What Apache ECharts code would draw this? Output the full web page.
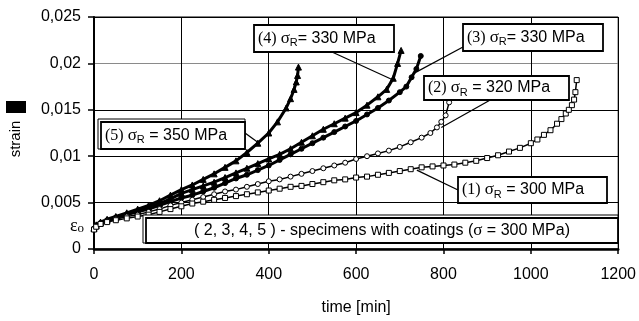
<!DOCTYPE html>
<html><head><meta charset="utf-8">
<script src="https://cdn.jsdelivr.net/npm/echarts@6/dist/echarts.min.js"></script>
<style>html,body{margin:0;padding:0;background:#fff}#c{width:639px;height:321px}</style>
</head><body><div id="c"></div>
<script>
// ---- data ----
const xTickLabels = ['0','200','400','600','800','1000','1200'];
const yTickLabels = ['0','0,005','0,01','0,015','0,02','0,025'];

const t1 = [0,5,15,30,50,75,100,125,150,175,200,225,250,275,300,325,350,375,400,425,450,475,500,525,550,575,600,625,650,675,700,725,750,775,800,825,850,875,900,925,950,975,1000,1015,1030,1045,1060,1070,1080,1087,1094,1099,1102,1105];
const s1 = [0.0021,0.0024,0.0027,0.0029,0.0031,0.0033,0.0035,0.0037,0.0040,0.0043,0.0046,0.0049,0.0051,0.0053,0.0055,0.0057,0.0059,0.0061,0.0063,0.0065,0.0067,0.0068,0.0070,0.0072,0.0074,0.0075,0.0077,0.0078,0.0080,0.0082,0.0084,0.0086,0.0088,0.0089,0.0090,0.0091,0.0093,0.0095,0.0098,0.0101,0.0105,0.0109,0.0114,0.0118,0.0123,0.0128,0.0135,0.0140,0.0146,0.0150,0.0155,0.0161,0.0169,0.0182];

const t2 = [0,5,15,30,50,75,100,125,150,175,200,225,250,275,300,325,350,375,400,425,450,475,500,525,550,575,600,625,650,675,700,725,750,770,785,795,805,813];
const s2 = [0.0021,0.0024,0.0027,0.0030,0.0032,0.0035,0.0037,0.0040,0.0043,0.0047,0.0050,0.0053,0.0056,0.0059,0.0062,0.0064,0.0067,0.0070,0.0073,0.0075,0.0078,0.0081,0.0084,0.0087,0.0090,0.0093,0.0097,0.0100,0.0103,0.0106,0.0110,0.0115,0.0120,0.0125,0.0131,0.0137,0.0144,0.0158];

const t3 = [0,5,15,30,50,75,100,125,150,175,200,225,250,275,300,325,350,375,400,425,450,475,500,525,550,575,600,625,650,675,700,715,727,738,748];
const s3 = [0.0022,0.0025,0.0028,0.0031,0.0034,0.0037,0.0040,0.0043,0.0047,0.0051,0.0055,0.0058,0.0062,0.0066,0.0071,0.0076,0.0080,0.0085,0.0090,0.0096,0.0102,0.0108,0.0114,0.0120,0.0126,0.0132,0.0138,0.0145,0.0152,0.0160,0.0169,0.0175,0.0185,0.0194,0.0208];

const t4 = [0,5,15,30,50,75,100,125,150,175,200,225,250,275,300,325,350,375,400,425,450,475,500,525,550,575,600,625,650,670,685,695,703];
const s4 = [0.0022,0.0025,0.0028,0.0031,0.0034,0.0038,0.0041,0.0045,0.0049,0.0054,0.0060,0.0064,0.0068,0.0072,0.0077,0.0082,0.0087,0.0092,0.0097,0.0102,0.0108,0.0115,0.0122,0.0129,0.0135,0.0141,0.0147,0.0155,0.0164,0.0172,0.0184,0.0200,0.0214];

const t5 = [0,5,15,30,50,75,100,125,150,175,200,225,250,275,300,325,350,375,400,420,440,450,458,463,466,468];
const s5 = [0.0023,0.0026,0.0029,0.0032,0.0035,0.0039,0.0043,0.0047,0.0052,0.0058,0.0064,0.0069,0.0075,0.0081,0.0088,0.0095,0.0104,0.0114,0.0125,0.0137,0.0152,0.0162,0.0172,0.0180,0.0187,0.0196];

// ---- presentation ----
const SANS = '"Liberation Sans", Arial, sans-serif';
const SERIF = '"Liberation Serif", "Times New Roman", serif';
function mk(t, s) { return t.map((v, i) => [v, s[i]]); }

const chart = echarts.init(document.getElementById('c'), null, {renderer: 'canvas'});

function ser(name, t, s, symbol, fill, size, lw) {
  return {
    name, type: 'line', data: mk(t, s), symbol, symbolSize: size,
    showSymbol: true, showAllSymbol: true, clip: false, animation: false,
    lineStyle: {color: '#000', width: lw},
    itemStyle: {color: fill, borderColor: '#000', borderWidth: 1},
    emphasis: {disabled: true}
  };
}

chart.setOption({
  animation: false,
  grid: {left: 94, right: 18, top: 17, bottom: 72, show: true, borderColor: '#000', borderWidth: 1},
  xAxis: {
    type: 'value', min: 0, max: 1200, interval: 200,
    name: 'time [min]', nameLocation: 'middle', nameGap: 51,
    nameTextStyle: {fontFamily: SANS, fontSize: 16, color: '#000'},
    axisLine: {show: true, onZero: false, lineStyle: {color: '#000', width: 2.5}},
    axisTick: {show: true, inside: false, length: 5, lineStyle: {color: '#000', width: 1.5}},
    axisLabel: {margin: 18, fontFamily: SANS, fontSize: 16, color: '#000',
      formatter: v => xTickLabels[Math.round(v / 200)]},
    splitLine: {show: true, lineStyle: {color: '#000', width: 1}}
  },
  yAxis: {
    type: 'value', min: 0, max: 0.025, interval: 0.005,
    axisLine: {show: true, onZero: false, lineStyle: {color: '#000', width: 2}},
    axisTick: {show: true, inside: false, length: 6, lineStyle: {color: '#000', width: 1.5}},
    axisLabel: {margin: 13, fontFamily: SANS, fontSize: 16, color: '#000',
      formatter: v => yTickLabels[Math.round(v / 0.005)]},
    splitLine: {show: true, lineStyle: {color: ['#000', '#000', '#000', '#000', '#8a8a8a', '#000'], width: 1}}
  },
  series: [
    ser('(5)', t5, s5, 'triangle', '#000', 6, 3),
    ser('(4)', t4, s4, 'triangle', '#000', 6, 3),
    ser('(3)', t3, s3, 'circle', '#000', 5, 3),
    ser('(2)', t2, s2, 'circle', '#fff', 5, 1.5),
    ser('(1)', t1, s1, 'rect', '#fff', 5, 1.5)
  ]
});

// ---- annotations ----
const rich = {
  n: {fontFamily: SERIF, fontSize: 16, lineHeight: 20, fill: '#000'},
  g: {fontFamily: SERIF, fontSize: 17, lineHeight: 20, fill: '#000'},
  r: {fontFamily: SANS, fontSize: 11, lineHeight: 12, verticalAlign: 'bottom', fill: '#000'},
  b: {fontFamily: SANS, fontSize: 16, lineHeight: 20, fill: '#000'}
};
const notes = [
  {text: '{n|(5) }{g|σ}{r|R}{b| = 350 MPa}', box: [101, 122, 144, 27], dbl: true, from: [245, 133], to: [378, 0.0114]},
  {text: '{n|(4) }{g|σ}{r|R}{b|= 330 MPa}', box: [254, 25, 140, 27], dbl: false, from: [332, 52], to: [681, 0.0183]},
  {text: '{n|(3) }{g|σ}{r|R}{b|= 330 MPa}', box: [463, 24, 140, 27], dbl: false, from: [463, 47], to: [731, 0.0189]},
  {text: '{n|(2) }{g|σ}{r|R}{b| = 320 MPa}', box: [424, 76, 145, 24], dbl: false, from: [492, 99], to: [795, 0.0131]},
  {text: '{n|(1) }{g|σ}{r|R}{b| = 300 MPa}', box: [458, 177, 149, 26], dbl: false, from: [458, 190], to: [739, 0.0085]}
];
const g = [];
notes.forEach(nt => {
  const p = chart.convertToPixel({gridIndex: 0}, nt.to);
  g.push({type: 'line', z: 50, shape: {x1: nt.from[0], y1: nt.from[1], x2: p[0], y2: p[1]},
    style: {stroke: '#000', lineWidth: 1.2}});
});
function boxes(b, dbl) {
  const [x, y, w, h] = b;
  if (dbl) g.push({type: 'rect', z: 60, shape: {x: x - 3, y: y - 3, width: w + 3, height: h + 3},
    style: {fill: '#fff', stroke: '#000', lineWidth: 1}});
  g.push({type: 'rect', z: 61, shape: {x, y, width: w, height: h},
    style: {fill: '#fff', stroke: '#000', lineWidth: 1.8}});
}
notes.forEach(nt => {
  boxes(nt.box, nt.dbl);
  g.push({type: 'text', z: 62, style: {text: nt.text, rich, x: nt.box[0] + 4, y: nt.box[1] + nt.box[3] / 2,
    align: 'left', verticalAlign: 'middle'}});
});
// specimens box
boxes([146, 218, 472, 25], true);
g.push({type: 'text', z: 62, style: {
  text: '{b|( 2, 3, 4, 5 ) - specimens with coatings (}{g|σ}{b| = 300 MPa)}', rich,
  x: 382, y: 231, align: 'center', verticalAlign: 'middle'}});
// epsilon_0 label
const e0 = chart.convertToPixel({yAxisIndex: 0}, 0.0025);
g.push({type: 'text', z: 62, style: {
  text: '{e|ε}{o|o}', rich: {
    e: {fontFamily: SERIF, fontSize: 18, lineHeight: 18, fill: '#000'},
    o: {fontFamily: SERIF, fontSize: 13, lineHeight: 12, verticalAlign: 'bottom', fill: '#000'}},
  x: 84, y: e0, align: 'right', verticalAlign: 'middle'}});
// y axis title
g.push({type: 'rect', z: 62, shape: {x: 6, y: 101, width: 20, height: 12}, style: {fill: '#000'}});
g.push({type: 'text', z: 62, x: 16, y: 139, rotation: Math.PI / 2, style: {
  text: 'strain', x: 0, y: 0, align: 'center', verticalAlign: 'middle',
  font: '15px ' + SANS, fill: '#000'}});
chart.setOption({graphic: g});
</script>
</body></html>
